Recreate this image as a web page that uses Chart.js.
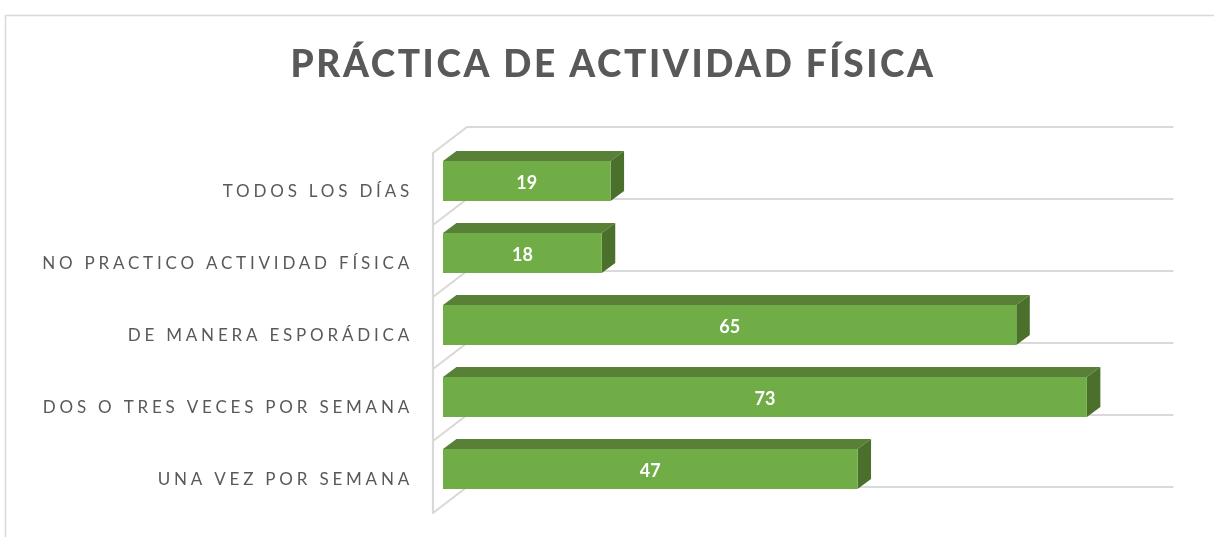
<!DOCTYPE html>
<html><head><meta charset="utf-8">
<style>html,body{margin:0;padding:0;background:#fff}#w{width:1214px;height:537px}canvas{display:block}</style>
<script src="https://cdn.jsdelivr.net/npm/chart.js@4"></script></head>
<body><div id="w"><canvas id="c" width="1214" height="537"></canvas></div>
<script>
const titleText = "PRÁCTICA DE ACTIVIDAD FÍSICA";
const categories = ["TODOS LOS DÍAS","NO PRACTICO ACTIVIDAD FÍSICA","DE MANERA ESPORÁDICA","DOS O TRES VECES POR SEMANA","UNA VEZ POR SEMANA"];
const values = [19,18,65,73,47];
const seriesName = "Práctica";
const front = "#70ad47", topFace = "#588137", sideFace = "#4b702c", wall = "#d9d9d9";
const D = {fx:-10, fy:8, bx:24, by:-18, dx:13.5, dy:10};

const scene = {
  id:"scene",
  beforeDraw(chart){
    const c = chart.ctx;
    c.letterSpacing = "3.8px";
    const t = chart.titleBlock;
    if(t && !t._w){ t._w = true; const d = t.draw.bind(t);
      t.draw = function(){ const p = c.letterSpacing; c.letterSpacing = "2.6px"; t.left = 0; t.right = 1226; d(); c.letterSpacing = p; }; }
    c.save();
    c.strokeStyle = wall; c.lineWidth = 1.5;
    c.beginPath(); c.moveTo(5.5,538); c.lineTo(5.5,15.5); c.lineTo(1214,15.5); c.stroke();
    const a = chart.chartArea, y = chart.scales.y;
    const step = y.getPixelForValue(1)-y.getPixelForValue(0);
    c.lineWidth = 2.2; c.lineCap = "round";
    c.beginPath();
    c.moveTo(a.left+D.fx,a.top+D.fy); c.lineTo(a.left+D.fx,a.bottom+D.fy);
    for(let i=0;i<=categories.length;i++){
      const b = y.getPixelForValue(0)-step/2+i*step;
      c.moveTo(a.left+D.fx,b+D.fy); c.lineTo(a.left+D.bx,b+D.by); c.lineTo(a.right+D.bx,b+D.by);
    }
    c.stroke();
    c.restore();
  },
  beforeDatasetsDraw(chart){
    const c = chart.ctx;
    chart.getDatasetMeta(0).data.forEach(b=>{
      const h = b.height/2, t = b.y-h, bt = b.y+h, l = b.base, r = b.x;
      c.fillStyle = topFace;
      c.beginPath(); c.moveTo(l,t); c.lineTo(l+D.dx,t-D.dy); c.lineTo(r+D.dx,t-D.dy); c.lineTo(r,t); c.closePath(); c.fill();
      c.fillStyle = sideFace;
      c.beginPath(); c.moveTo(r,t); c.lineTo(r+D.dx,t-D.dy); c.lineTo(r+D.dx,bt-D.dy); c.lineTo(r,bt); c.closePath(); c.fill();
    });
  },
  afterDatasetsDraw(chart){
    const c = chart.ctx;
    c.save();
    c.letterSpacing = "0px";
    c.fillStyle = "#fff"; c.font = "bold 18px Lato"; c.textAlign = "center"; c.textBaseline = "middle";
    chart.getDatasetMeta(0).data.forEach((b,i)=>{
      c.fillText(String(values[i]),(b.base+b.x)/2,b.y+2);
    });
    c.restore();
  }
};

new Chart(document.getElementById("c"),{
  type:"bar",
  data:{labels:categories,datasets:[{label:seriesName,data:values,backgroundColor:front,barPercentage:40/72,categoryPercentage:1}]},
  options:{
    indexAxis:"y",responsive:false,animation:false,
    layout:{autoPadding:false,padding:{left:0,right:65.4,top:0,bottom:32}},
    plugins:{
      legend:{display:false},tooltip:{enabled:false},
      title:{display:true,text:titleText,color:"#595959",align:"center",
        font:{family:"Lato",size:37,weight:900,lineHeight:1.2},padding:{top:42.8,bottom:57.8}}
    },
    scales:{
      x:{display:false,min:0,max:80},
      y:{
        afterFit(s){s.width=443;s.paddingTop=0;s.paddingBottom=0;},
        grid:{display:false,drawTicks:false},border:{display:false},
        ticks:{color:"#595959",font:{family:"Lato",size:17},padding:30,autoSkip:false,labelOffset:10.5}
      }
    }
  },
  plugins:[scene]
});
</script></body></html>
